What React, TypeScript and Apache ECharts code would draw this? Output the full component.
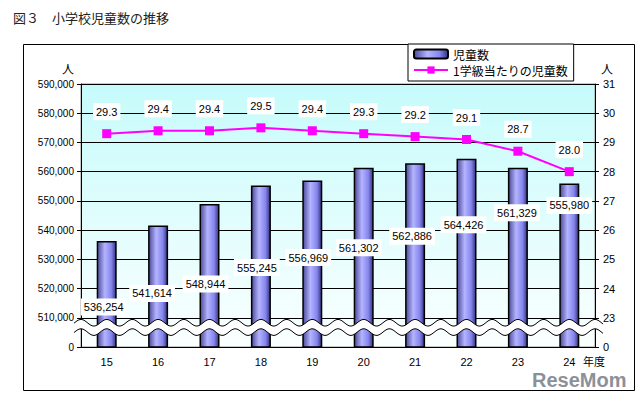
import React, { useEffect, useRef } from "react";
import * as echarts from "echarts";

// ---- data ----
const years = ["15", "16", "17", "18", "19", "20", "21", "22", "23", "24"];
const pupils = [536254, 541614, 548944, 555245, 556969, 561302, 562886, 564426, 561329, 555980];
const perClass = [29.3, 29.4, 29.4, 29.5, 29.4, 29.3, 29.2, 29.1, 28.7, 28.0];
const seriesNames = ["児童数", "1学級当たりの児童数"];

// ---- styling (label placement offsets, px) ----
const barLabelDy = [66, 68, 80, 82, 77, 80, 73, 66, 45, 22];
const barLabelDx = [-3, -6, -4, -4, -4, -5, -3, -3, -1, 0];

const FONT = "'Liberation Sans', 'Noto Sans CJK JP', sans-serif";
const JFONT = "'Noto Sans CJK JP', sans-serif";

export default function App() {
  const ref = useRef<HTMLDivElement>(null);
  useEffect(() => {
    if (!ref.current) return;
    const chart = echarts.init(ref.current, null, { renderer: "svg" });
    const barGradient = new echarts.graphic.LinearGradient(0, 0, 1, 0, [
      { offset: 0, color: "#4a4a9a" },
      { offset: 0.4, color: "#b4b4ff" },
      { offset: 0.75, color: "#8585ee" },
      { offset: 1, color: "#34347e" },
    ]);
    const option: any = {
      animation: false,
      textStyle: { fontFamily: FONT },
      title: {
        text: "図３　小学校児童数の推移",
        left: 8,
        top: 6,
        textStyle: { fontSize: 13, fontWeight: "normal", color: "#222", fontFamily: JFONT },
      },
      legend: {
        data: [seriesNames[0], seriesNames[1]],
        orient: "vertical",
        left: 408,
        top: 44,
        padding: [4, 6, 5, 5],
        itemGap: 4,
        itemWidth: 34,
        itemHeight: 9,
        backgroundColor: "#fff",
        borderColor: "#000",
        borderWidth: 1,
        textStyle: { fontSize: 12, color: "#000", fontFamily: JFONT },
      },
      grid: {
        left: 81,
        right: 49,
        top: 84,
        bottom: 52,
        show: true,
        outerBoundsMode: "none",
        backgroundColor: new echarts.graphic.LinearGradient(0, 0, 0, 1, [
          { offset: 0, color: "#c6fbfb" },
          { offset: 1, color: "#fbffff" },
        ]),
        borderColor: "#909090",
        borderWidth: 1,
      },
      xAxis: {
        type: "category",
        data: years,
        axisLine: { lineStyle: { color: "#000", width: 1 } },
        axisTick: { inside: true, length: 5, lineStyle: { color: "#000" } },
        axisLabel: { fontSize: 11, margin: 9, color: "#000" },
      },
      yAxis: [
        {
          type: "value",
          min: 500000,
          max: 590000,
          interval: 10000,
          axisLine: { show: true, lineStyle: { color: "#000" } },
          axisTick: { show: true, length: 4, lineStyle: { color: "#000" } },
          axisLabel: {
            fontSize: 10,
            margin: 7,
            color: "#000",
            formatter: (v: number) => (v === 500000 ? "0" : v.toLocaleString("en-US")),
          },
          splitLine: { lineStyle: { color: "#000", width: 1 } },
        },
        {
          type: "value",
          position: "right",
          min: 22,
          max: 31,
          interval: 1,
          axisLine: { show: true, lineStyle: { color: "#000" } },
          axisTick: { show: true, length: 4, lineStyle: { color: "#000" } },
          axisLabel: {
            fontSize: 11,
            margin: 8,
            color: "#000",
            formatter: (v: number) => (v === 22 ? "0" : String(v)),
          },
          splitLine: { show: false },
        },
      ],
      series: [
        {
          name: seriesNames[0],
          type: "bar",
          yAxisIndex: 0,
          barWidth: 20,
          z: 2,
          itemStyle: { color: barGradient, borderColor: "#000", borderWidth: 1.5 },
          label: {
            show: true,
            position: "insideTop",
            distance: 0,
            fontSize: 11,
            lineHeight: 13,
            color: "#000",
            backgroundColor: "#fff",
            padding: [2, 3],
            formatter: (p: any) => Number(p.value).toLocaleString("en-US"),
          },
          data: pupils.map((v, i) => ({
            value: v,
            label: { offset: [barLabelDx[i], barLabelDy[i] - 8.5] },
          })),
        },
        {
          name: "break",
          type: "custom",
          yAxisIndex: 0,
          z: 3,
          clip: false,
          silent: true,
          data: [[0, 505000]],
          renderItem: (params: any, api: any) => {
            const cs = params.coordSys;
            const yU = api.coord([0, 508300])[1];
            const yL = api.coord([0, 505100])[1];
            const period = cs.width / (years.length * 2);
            const A = 3.3;
            const x0 = cs.x - 7;
            const x1 = cs.x + cs.width + 8;
            const up: number[][] = [];
            const lo: number[][] = [];
            for (let x = x0; x <= x1; x += 1) {
              const ph = Math.cos((2 * Math.PI * (x - cs.x)) / period);
              up.push([x, yU - A * ph]);
              lo.push([x, yL - A * ph]);
            }
            return {
              type: "group",
              children: [
                {
                  type: "polygon",
                  shape: { points: up.concat(lo.slice().reverse()) },
                  style: { fill: "#fff", stroke: null },
                },
                { type: "polyline", shape: { points: up }, style: { stroke: "#000", lineWidth: 1, fill: null } },
                { type: "polyline", shape: { points: lo }, style: { stroke: "#000", lineWidth: 1, fill: null } },
              ],
            };
          },
        },
        {
          name: seriesNames[1],
          type: "line",
          yAxisIndex: 1,
          z: 4,
          symbol: "rect",
          symbolSize: 9,
          lineStyle: { color: "#ff00ff", width: 2 },
          itemStyle: { color: "#ff00ff" },
          label: {
            show: true,
            position: "top",
            distance: 9,
            fontSize: 11,
            lineHeight: 13,
            color: "#000",
            backgroundColor: "#fff",
            padding: [2, 3],
            formatter: (p: any) => Number(p.value).toFixed(1),
          },
          data: perClass,
        },
      ],
      graphic: [
        {
          type: "rect",
          z: -10,
          shape: { x: 23.5, y: 44.5, width: 611, height: 346 },
          style: { fill: null, stroke: "#000", lineWidth: 1 },
        },
        { type: "text", x: 62, y: 62, style: { text: "人", fill: "#000", font: "12px 'Noto Sans CJK JP'" } },
        { type: "text", x: 601, y: 62, style: { text: "人", fill: "#000", font: "12px 'Noto Sans CJK JP'" } },
        { type: "text", x: 583, y: 355, style: { text: "年度", fill: "#000", font: "11px 'Noto Sans CJK JP'" } },
        {
          type: "text",
          x: 532,
          y: 370,
          style: { text: "ReseMom", fill: "#8b9199", font: "bold 20px 'Liberation Sans'" },
        },
      ],
    };
    chart.setOption(option);
    return () => chart.dispose();
  }, []);
  return (
    <div
      ref={ref}
      style={{ position: "fixed", left: 0, top: 0, width: 644, height: 399, background: "#fff" }}
    />
  );
}
